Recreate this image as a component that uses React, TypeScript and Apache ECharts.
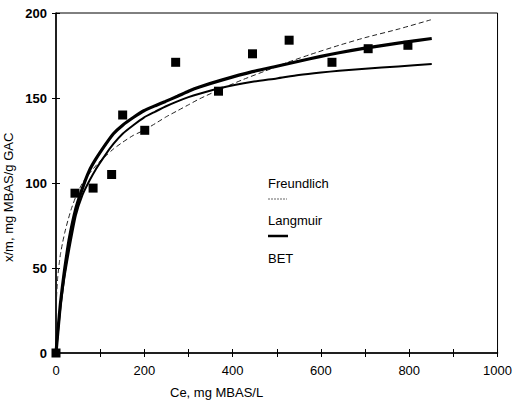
import React, { useEffect, useRef } from "react";
import * as echarts from "echarts";

const observedCe = [0, 43, 84, 126, 151, 201, 271, 368, 445, 528, 625, 707, 797];
const observedQ = [0, 94, 97, 105, 140, 131, 171, 154, 176, 184, 171, 179, 181];

const freundCe = [0, 1, 2, 4, 7, 10, 15, 20, 27, 35, 45, 60, 80, 100, 113, 130, 151, 175, 199, 225, 250, 275, 300, 325, 375, 425, 475, 525, 575, 641, 700, 775, 849];
const freundQ = [0, 31, 37, 45, 52, 58, 65, 71, 78, 85, 92, 100, 107, 113, 116, 120, 124, 128, 131, 135, 139, 142.5, 146, 149.5, 155.5, 161, 166, 171, 175.5, 181, 185.5, 190.5, 196];

const langCe = [0, 5, 10, 15, 20, 30, 45, 60, 75, 90, 113, 130, 151, 175, 199, 225, 248, 275, 300, 325, 375, 445, 500, 550, 600, 641, 700, 775, 851];
const langQ = [0, 14, 27, 37, 46, 61, 81, 93, 101, 108, 117, 123, 129, 134, 138.5, 142, 145, 148, 150.5, 152.5, 156, 159.5, 161.5, 163.5, 165, 166, 167.2, 168.6, 170];

const betCe = [0, 5, 10, 15, 20, 30, 45, 60, 75, 90, 113, 130, 151, 175, 199, 225, 248, 275, 300, 325, 375, 445, 500, 550, 600, 641, 700, 775, 851];
const betQ = [0, 15, 29, 40, 50, 67, 85, 97, 107, 114, 123, 129, 134, 138.5, 142.5, 145.5, 148, 151, 154, 156.5, 160.5, 165.5, 168.7, 171.6, 174.5, 176.6, 179.3, 182.3, 185];

const xTicks = [0, 200, 400, 600, 800, 1000];
const yTicks = [0, 50, 100, 150, 200];

const zip = (a: number[], b: number[]) => a.map((v, i) => [v, b[i]]);

const FONT = "Liberation Sans";

export default function App() {
  const ref = useRef<HTMLDivElement>(null);
  useEffect(() => {
    if (!ref.current) return;
    const chart = echarts.init(ref.current, undefined, { renderer: "svg" });
    const baseX = {
      type: "value" as const,
      min: 0,
      max: 1000,
      interval: 100,
      splitLine: { show: false },
    };
    const baseY = {
      type: "value" as const,
      min: 0,
      max: 200,
      interval: 50,
      splitLine: { show: false },
    };
    chart.setOption({
      animation: false,
      backgroundColor: "#fff",
      grid: {
        left: 56,
        right: 16,
        top: 13,
        bottom: 51,
        show: true,
        borderColor: "#000",
        borderWidth: 1,
        backgroundColor: "transparent",
      },
      xAxis: [
        {
          ...baseX,
          axisLine: { show: true, onZero: false, lineStyle: { color: "#000", width: 1.5 } },
          axisTick: { show: true, inside: false, length: 4, lineStyle: { color: "#000" } },
          axisLabel: {
            color: "#000",
            fontFamily: FONT,
            fontSize: 13,
            margin: 11,
            formatter: (v: number) => (xTicks.includes(v) ? String(v) : ""),
          },
        },
        {
          ...baseX,
          position: "bottom",
          axisLine: { show: false },
          axisTick: { show: true, inside: true, length: 4, lineStyle: { color: "#000" } },
          axisLabel: { show: false },
        },
      ],
      yAxis: [
        {
          ...baseY,
          axisLine: { show: true, onZero: false, lineStyle: { color: "#000", width: 1.5 } },
          axisTick: { show: true, inside: false, length: 4, lineStyle: { color: "#000" } },
          axisLabel: {
            color: "#000",
            fontFamily: FONT,
            fontSize: 13,
            fontWeight: "bold",
            margin: 9,
            formatter: (v: number) => (yTicks.includes(v) ? String(v) : ""),
          },
        },
        {
          ...baseY,
          position: "left",
          axisLine: { show: false },
          axisTick: { show: true, inside: true, length: 4, lineStyle: { color: "#000" } },
          axisLabel: { show: false },
        },
      ],
      series: [
        {
          name: "Freundlich",
          type: "line",
          data: zip(freundCe, freundQ),
          smooth: 0.2,
          showSymbol: false,
          lineStyle: { color: "#222", width: 1, type: [5, 3] },
        },
        {
          name: "Langmuir",
          type: "line",
          data: zip(langCe, langQ),
          smooth: 0.2,
          showSymbol: false,
          lineStyle: { color: "#000", width: 2 },
        },
        {
          name: "BET",
          type: "line",
          data: zip(betCe, betQ),
          smooth: 0.2,
          showSymbol: false,
          lineStyle: { color: "#000", width: 3.2 },
        },
        {
          name: "Observed",
          type: "scatter",
          data: zip(observedCe, observedQ),
          symbol: "rect",
          symbolSize: 9,
          itemStyle: { color: "#000", opacity: 1 },
          z: 5,
        },
      ],
      graphic: [
        {
          type: "text",
          left: 170,
          top: 386,
          style: { text: "Ce, mg MBAS/L", fill: "#000", font: `13px "${FONT}"` },
        },
        {
          type: "text",
          x: 2,
          y: 262,
          rotation: Math.PI / 2,
          style: {
            text: "x/m, mg MBAS/g GAC",
            fill: "#000",
            font: `13px "${FONT}"`,
            verticalAlign: "top",
            align: "left",
          },
        },
        {
          type: "text",
          x: 268,
          y: 183,
          style: { text: "Freundlich", fill: "#000", font: `13px "${FONT}"`, verticalAlign: "middle" },
        },
        {
          type: "line",
          shape: { x1: 268, y1: 199, x2: 287, y2: 199 },
          style: { stroke: "#666", lineWidth: 1, lineDash: [2, 1] },
        },
        {
          type: "text",
          x: 268,
          y: 220,
          style: { text: "Langmuir", fill: "#000", font: `13px "${FONT}"`, verticalAlign: "middle" },
        },
        {
          type: "line",
          shape: { x1: 268, y1: 236, x2: 288, y2: 236 },
          style: { stroke: "#000", lineWidth: 2.5 },
        },
        {
          type: "text",
          x: 268,
          y: 258,
          style: { text: "BET", fill: "#000", font: `13px "${FONT}"`, verticalAlign: "middle" },
        },
      ],
    });
    return () => chart.dispose();
  }, []);
  return <div ref={ref} style={{ width: 515, height: 404, position: "absolute", left: 0, top: 0 }} />;
}
